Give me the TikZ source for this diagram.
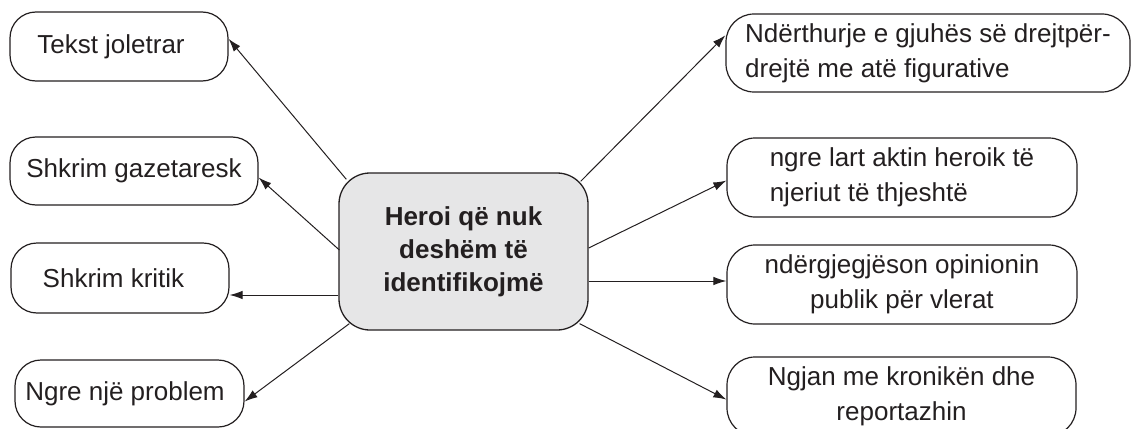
\documentclass[tikz,border=0pt]{standalone}
\usepackage{fontspec}
\setmainfont{Liberation Sans}
\usetikzlibrary{arrows.meta,calc}
\definecolor{ink}{HTML}{231F20}
\definecolor{hubfill}{HTML}{E6E6E7}
\begin{document}
\begin{tikzpicture}[x=1pt,y=-1pt,
  every node/.style={text=ink},
  leaf/.style={draw=ink, line width=1.2pt, rounded corners=26pt, inner sep=0pt,
    font=\fontsize{26}{35}\selectfont, align=center},
  hub/.style={draw=ink, line width=1.3pt, fill=hubfill, rounded corners=31pt, inner sep=0pt,
    font=\fontsize{26}{33}\selectfont\bfseries, align=center,
    minimum width=249pt, minimum height=157pt},
  arr/.style={draw=ink, line width=1pt, -{Latex[length=13pt,width=8.5pt]}}]
\useasboundingbox (0,0) rectangle (1131,428);
% hub
\node[hub] (C) at (463.5,251.5) {Heroi që nuk\\deshëm të\\identifikojmë};
% left column
\node[leaf, minimum width=218pt, minimum height=69pt] (L1) at (119,46.5) {\hspace*{-16pt}Tekst joletrar};
\node[leaf, minimum width=248pt, minimum height=68pt] (L2) at (134,171) {Shkrim gazetaresk};
\node[leaf, minimum width=218pt, minimum height=70pt] (L3) at (120,278) {\hspace*{-13pt}Shkrim kritik};
\node[leaf, minimum width=229pt, minimum height=67pt] (L4) at (129.5,393.5) {\hspace*{-9pt}Ngre një problem};
% right column
\node[leaf, align=left, minimum width=404pt, minimum height=78pt, rounded corners=28pt] (R1) at (928,53) {Ndërthurje e gjuhës së drejtpër-\\drejtë me atë figurative};
\node[leaf, align=left, minimum width=350pt, minimum height=79pt, rounded corners=28pt] (R2) at (902,177.5) {ngre lart aktin heroik të\\njeriut të thjeshtë};
\node[leaf, minimum width=350pt, minimum height=79pt, rounded corners=28pt] (R3) at (902,284.5) {ndërgjegjëson opinionin\\publik për vlerat};
\node[leaf, minimum width=349pt, minimum height=79pt, rounded corners=28pt] (R4) at (901.5,396.5) {Ngjan me kronikën dhe\\reportazhin};
% start points on the hub border
\coordinate (c1) at ($(C.north west)+(8,7)$);
\coordinate (c2) at ($(C.west)+(1,-1.5)$);
\coordinate (c3) at ($(C.west)+(0,43.5)$);
\coordinate (c4) at ($(C.south west)+(11,-7)$);
\coordinate (c5) at ($(C.north east)+(-8,9)$);
\coordinate (c6) at ($(C.east)+(0,-3.5)$);
\coordinate (c7) at ($(C.east)+(0,29.5)$);
\coordinate (c8) at ($(C.south east)+(-9,-7)$);
% connectors
\draw[arr] (c1) -- (L1.4);
\draw[arr] (c2) -- (L2.-3);
\draw[arr] (c3) -- (c3 -| L3.east);
\draw[arr] (c4) -- (L4.-4.5);
\draw[arr] (c5) -- (R1.175.5);
\draw[arr] (c6) -- (R2.181.5);
\draw[arr] (c7) -- (c7 -| R3.west);
\draw[arr] (c8) -- (R4.181.1);
\end{tikzpicture}
\end{document}
